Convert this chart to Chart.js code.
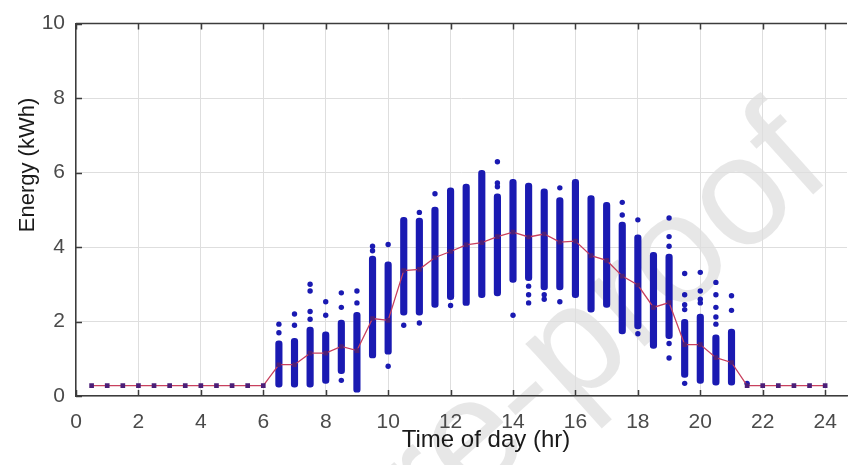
<!DOCTYPE html>
<html>
<head>
<meta charset="utf-8">
<script src="https://cdn.jsdelivr.net/npm/chart.js@4.4.0/dist/chart.umd.min.js"></script>
<style>
	html, body { margin: 0; padding: 0; background: #fff; overflow: hidden; }
	#wrap { width: 851px; height: 465px; }
</style>
</head>
<body>
<div id="wrap"><canvas id="chartCanvas" width="851" height="465"></canvas></div>
<script>
// half-hour slots and the mean energy (red line)
var hours = [0.5, 1, 1.5, 2, 2.5, 3, 3.5, 4, 4.5, 5, 5.5, 6,
	6.5, 7, 7.5, 8, 8.5, 9, 9.5, 10, 10.5, 11, 11.5, 12,
	12.5, 13, 13.5, 14, 14.5, 15, 15.5, 16, 16.5, 17, 17.5, 18,
	18.5, 19, 19.5, 20, 20.5, 21, 21.5, 22, 22.5, 23, 23.5, 24];
var meanEnergy = [0.28, 0.28, 0.28, 0.28, 0.28, 0.28, 0.28, 0.28, 0.28, 0.28, 0.28, 0.28,
	0.84, 0.84, 1.15, 1.15, 1.33, 1.22, 2.08, 2.03, 3.37, 3.4, 3.72, 3.88,
	4.06, 4.12, 4.28, 4.4, 4.27, 4.35, 4.13, 4.16, 3.77, 3.64, 3.22, 2.98,
	2.38, 2.51, 1.38, 1.38, 1.03, 0.9, 0.28, 0.28, 0.28, 0.28, 0.28, 0.28];

// dense part of each column of daily samples
var rangeHours = [6.5, 7, 7.5, 8, 8.5, 9, 9.5, 10, 10.5, 11, 11.5, 12, 12.5, 13, 13.5,
	14, 14.5, 15, 15.5, 16, 16.5, 17, 17.5, 18, 18.5, 19, 19.5, 20, 20.5, 21];
var rangeLow = [0.24, 0.24, 0.24, 0.34, 0.6, 0.1, 1.02, 1.12, 2.17, 2.17, 2.38, 2.59, 2.43, 2.64, 2.69,
	3.05, 3.1, 2.85, 2.85, 2.64, 2.25, 2.38, 1.67, 1.8, 1.28, 1.54, 0.5, 0.34, 0.29, 0.29];
var rangeHigh = [1.48, 1.55, 1.85, 1.72, 2.04, 2.25, 3.76, 3.6, 4.8, 4.78, 5.07, 5.59, 5.69, 6.06, 5.43,
	5.82, 5.72, 5.56, 5.33, 5.82, 5.38, 5.2, 4.67, 4.33, 3.86, 3.81, 2.06, 2.2, 1.64, 1.8];

// isolated samples outside the dense part
var outlierHour = [6.5, 6.5, 7, 7, 7.5, 7.5, 7.5, 7.5, 8, 8, 8.5, 8.5, 8.5, 9, 9,
	9.5, 9.5, 10, 10, 10.5, 11, 11, 11.5, 12, 13.5, 13.5, 13.5, 14,
	14.5, 14.5, 14.5, 15, 15, 15.5, 15.5, 17.5, 17.5, 18, 18,
	19, 19, 19, 19, 19, 19.5, 19.5, 19.5, 19.5, 19.5,
	20, 20, 20, 20, 20.5, 20.5, 20.5, 20.5, 20.5, 21, 21, 21.5];
var outlierEnergy = [1.7, 1.93, 1.9, 2.2, 2.06, 2.27, 2.82, 3.0, 2.17, 2.53, 0.42, 2.38, 2.77, 2.5, 2.82,
	4.02, 3.9, 0.8, 4.07, 1.9, 4.93, 1.96, 5.43, 2.43, 6.29, 5.72, 5.62, 2.17,
	2.95, 2.72, 2.5, 2.72, 2.6, 5.59, 2.53, 5.2, 4.86, 4.73, 1.67,
	4.78, 4.28, 4.02, 1.41, 1.02, 3.29, 2.72, 2.45, 2.32, 0.34,
	3.32, 2.82, 2.6, 2.5, 3.05, 2.72, 2.38, 2.12, 1.93, 2.69, 2.3, 0.34];

var xTicks = [0, 2, 4, 6, 8, 10, 12, 14, 16, 18, 20, 22, 24];
var yTicks = [0, 2, 4, 6, 8, 10];

var FONT = '"Liberation Sans", Arial, sans-serif';
var BLUE = '#1a1ab2';

var decor = {
	id: 'decor',
	beforeDraw: function(chart) {
		var ctx = chart.ctx;
		ctx.save();
		ctx.fillStyle = '#fff';
		ctx.fillRect(0, 0, chart.width, chart.height);
		// watermark
		ctx.translate(835, 175);
		ctx.rotate(-42 * Math.PI / 180);
		ctx.font = '155px ' + FONT;
		ctx.fillStyle = 'rgba(0,0,0,0.095)';
		ctx.textAlign = 'right';
		ctx.textBaseline = 'alphabetic';
		ctx.fillText('Journal Pre-proof', 0, 0);
		ctx.restore();
	},
	afterDraw: function(chart) {
		var ctx = chart.ctx;
		var a = chart.chartArea;
		var xs = chart.scales.x, ys = chart.scales.y;
		ctx.save();
		ctx.strokeStyle = '#3c3c3c';
		ctx.lineWidth = 1.5;
		ctx.beginPath();
		ctx.moveTo(a.left, a.top);
		ctx.lineTo(a.right, a.top);
		xTicks.forEach(function(v) {
			var px = Math.round(xs.getPixelForValue(v)) + 0.5;
			ctx.moveTo(px, a.bottom);
			ctx.lineTo(px, a.bottom - 6);
			ctx.moveTo(px, a.top);
			ctx.lineTo(px, a.top + 6);
		});
		yTicks.forEach(function(v) {
			var py = Math.round(ys.getPixelForValue(v)) + 0.5;
			ctx.moveTo(a.left, py);
			ctx.lineTo(a.left + 6, py);
		});
		ctx.stroke();
		// axis titles
		ctx.fillStyle = '#1a1a1a';
		ctx.textAlign = 'center';
		ctx.textBaseline = 'middle';
		ctx.font = '24px ' + FONT;
		ctx.fillText('Time of day (hr)', 486, 440);
		ctx.translate(28, 165);
		ctx.rotate(-Math.PI / 2);
		ctx.font = '22px ' + FONT;
		ctx.fillText('Energy (kWh)', 0, 0);
		ctx.restore();
	}
};

var chartCanvas = document.getElementById('chartCanvas');
var chartObj = new Chart(chartCanvas, {
	type: 'bar',
	data: {
		datasets: [{
			type: 'line',
			data: hours.map(function(h, i) { return {x: h, y: meanEnergy[i]}; }),
			borderColor: '#c8405e',
			borderWidth: 1.3,
			pointStyle: 'rect',
			pointRadius: 3.3,
			pointBackgroundColor: '#4b1e78',
			pointBorderWidth: 0,
			order: 0
		}, {
			type: 'scatter',
			data: outlierHour.map(function(h, i) { return {x: h, y: outlierEnergy[i]}; }),
			backgroundColor: BLUE,
			borderWidth: 0,
			pointRadius: 2.7,
			order: 1
		}, {
			type: 'bar',
			data: rangeHours.map(function(h, i) { return {x: h, y: [rangeLow[i], rangeHigh[i]]}; }),
			backgroundColor: BLUE,
			barThickness: 6.5,
			borderRadius: 3.2,
			borderSkipped: false,
			grouped: false,
			order: 2
		}]
	},
	options: {
		responsive: false,
		animation: false,
		devicePixelRatio: 1,
		layout: { padding: { top: 13, right: 0, left: 0, bottom: 0 } },
		plugins: { legend: { display: false }, tooltip: { enabled: false } },
		scales: {
			x: {
				type: 'linear',
				min: 0,
				max: 24.7,
				offset: false,
				afterBuildTicks: function(s) { s.ticks = xTicks.map(function(v) { return {value: v}; }); },
				afterFit: function(s) { s.height = 69; },
				grid: { color: '#dedede', drawTicks: false, offset: false },
				border: { color: '#3c3c3c', width: 1.5 },
				ticks: { color: '#4a4a4a', font: { family: FONT, size: 21 }, padding: 14, maxRotation: 0 }
			},
			y: {
				min: 0,
				max: 10,
				afterBuildTicks: function(s) { s.ticks = yTicks.map(function(v) { return {value: v}; }); },
				afterFit: function(s) { s.width = 76; },
				grid: { color: '#dedede', drawTicks: false },
				border: { color: '#3c3c3c', width: 1.5 },
				ticks: { color: '#4a4a4a', font: { family: FONT, size: 21 }, padding: 11 }
			}
		}
	},
	plugins: [decor]
});
</script>
</body>
</html>
